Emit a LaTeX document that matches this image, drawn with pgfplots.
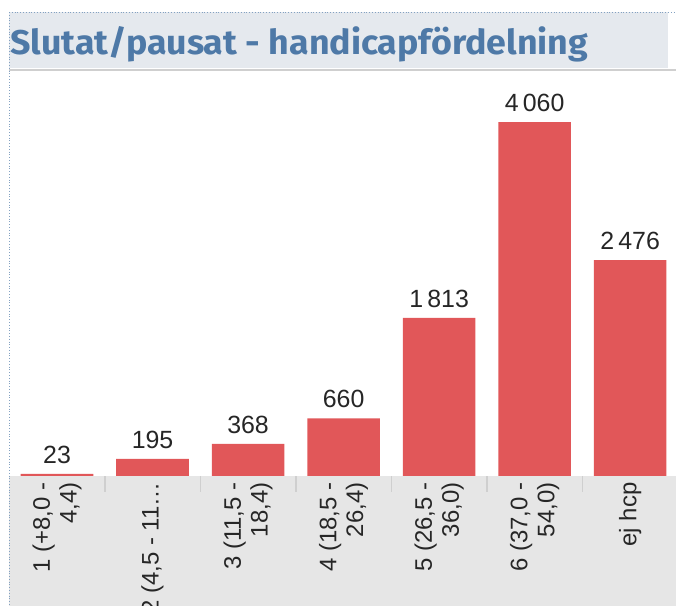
\documentclass[border=0pt]{standalone}
\usepackage{fontspec}
\setmainfont{Liberation Sans}
\newfontfamily\titlefont{Fira Sans}
\usepackage{xcolor}
\usepackage{pgfplots}
\pgfplotsset{compat=1.18}

\definecolor{barred}{HTML}{E15759}
\definecolor{titleblue}{HTML}{4E79A7}
\definecolor{bandbg}{HTML}{E5E9EE}
\definecolor{tickbg}{HTML}{E6E6E6}
\definecolor{sepgray}{HTML}{CFCFCF}

\begin{document}
\begin{tikzpicture}[x=1bp, y=1bp]
\useasboundingbox (0,0) rectangle (676,606);
% background pieces (image y flipped: y = 606 - y_img)
\fill[bandbg] (9,594) rectangle (668,538);
\fill[tickbg] (9,130) rectangle (676,0);
\draw[sepgray, line width=1.5bp] (9,536) -- (676,536);
\draw[titleblue!70, dotted, line width=0.8bp] (9,594) -- (676,594);
\draw[titleblue!70, dotted, line width=0.8bp] (9,594) -- (9,0);
\node[anchor=base west, inner sep=0pt, text=titleblue] at (10,551)
  {\resizebox{578bp}{28bp}{\titlefont\bfseries Slutat/pausat - handicapfördelning}};

\begin{axis}[
  at={(9.25bp,130bp)}, anchor=south west,
  scale only axis,
  width=666.75bp, height=404bp,
  ybar, bar width=0.76,
  xmin=-0.5, xmax=6.48,
  ymin=0, ymax=4635,
  axis line style={draw=none},
  ytick=\empty,
  xtick=data,
  xtick pos=lower,
  major tick length=0pt,
  xticklabels={{1 (+8,0 -\\4,4)}, {2 (4,5 - 11…}, {3 (11,5 -\\18,4)},
               {4 (18,5 -\\26,4)}, {5 (26,5 -\\36,0)}, {6 (37,0 -\\54,0)}, {ej hcp}},
  xticklabel style={rotate=90, anchor=east, align=right,
                    font=\fontsize{24}{27}\selectfont, text=black!85, xshift=-3bp},
  extra x ticks={0.5,1.5,2.5,3.5,4.5,5.5},
  extra x tick labels={},
  extra x tick style={major tick length=16bp, tick align=outside, xtick pos=lower,
                      tick style={sepgray, line width=1.5bp}},
  nodes near coords,
  nodes near coords style={font=\fontsize{25}{29}\selectfont, text=black!85,
     /pgf/number format/assume math mode=true,
     /pgf/number format/1000 sep={\,}},
  every node near coord/.append style={anchor=south, yshift=7bp},
  clip=false,
]
\addplot[fill=barred, draw=none] coordinates {
  (0, 23) (1, 195) (2, 368) (3, 660) (4, 1813) (5, 4060) (6, 2476)
};
\end{axis}
\end{tikzpicture}
\end{document}
